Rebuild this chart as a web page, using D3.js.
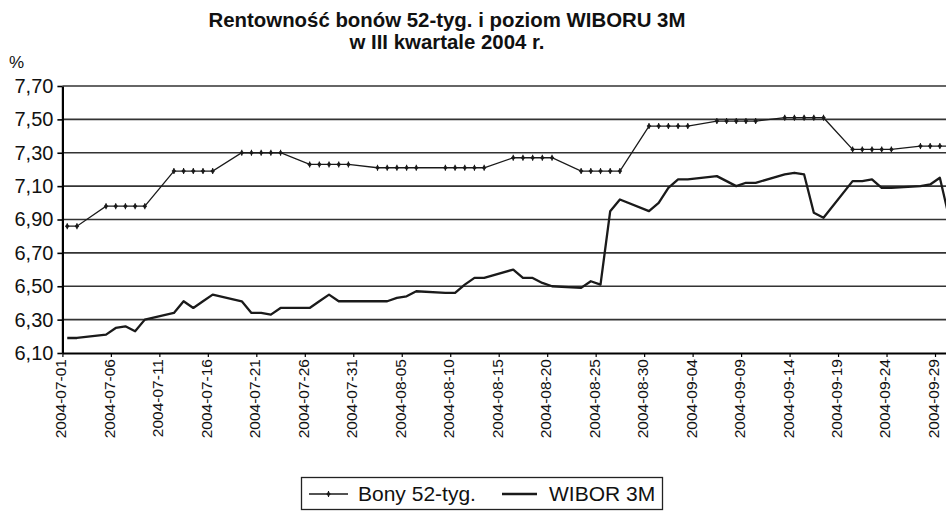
<!DOCTYPE html>
<html><head><meta charset="utf-8">
<script src="https://cdn.jsdelivr.net/npm/d3@7"></script>
<style>
html,body{margin:0;padding:0;background:#fff;}
svg{display:block;font-family:"Liberation Sans",Arial,sans-serif;}
</style></head>
<body>
<svg id="chart" width="946" height="511"></svg>
<script>
const titleLines = ["Rentowność bonów 52-tyg. i poziom WIBORU 3M", "w III kwartale 2004 r."];
const yUnit = "%";
const seriesNames = ["Bony 52-tyg.", "WIBOR 3M"];
const dates = [
 "2004-07-01","2004-07-02","2004-07-05","2004-07-06","2004-07-07","2004-07-08","2004-07-09",
 "2004-07-12","2004-07-13","2004-07-14","2004-07-15","2004-07-16","2004-07-19","2004-07-20",
 "2004-07-21","2004-07-22","2004-07-23","2004-07-26","2004-07-27","2004-07-28","2004-07-29","2004-07-30",
 "2004-08-02","2004-08-03","2004-08-04","2004-08-05","2004-08-06","2004-08-09","2004-08-10",
 "2004-08-11","2004-08-12","2004-08-13","2004-08-16","2004-08-17","2004-08-18","2004-08-19","2004-08-20",
 "2004-08-23","2004-08-24","2004-08-25","2004-08-26","2004-08-27","2004-08-30","2004-08-31",
 "2004-09-01","2004-09-02","2004-09-03","2004-09-06","2004-09-07","2004-09-08","2004-09-09","2004-09-10",
 "2004-09-13","2004-09-14","2004-09-15","2004-09-16","2004-09-17","2004-09-20","2004-09-21",
 "2004-09-22","2004-09-23","2004-09-24","2004-09-27","2004-09-28","2004-09-29","2004-09-30"
];
const bony = [
 6.86,6.86, 6.98,6.98,6.98,6.98,6.98,
 7.19,7.19,7.19,7.19,7.19, 7.30,7.30,
 7.30,7.30,7.30, 7.23,7.23,7.23,7.23,7.23,
 7.21,7.21,7.21,7.21,7.21, 7.21,7.21,
 7.21,7.21,7.21, 7.27,7.27,7.27,7.27,7.27,
 7.19,7.19,7.19,7.19,7.19, 7.46,7.46,
 7.46,7.46,7.46, 7.49,7.49,7.49,7.49,7.49,
 7.51,7.51,7.51,7.51,7.51, 7.32,7.32,
 7.32,7.32,7.32, 7.34,7.34,7.34,7.34
];
const wibor = [
 6.19,6.19, 6.21,6.25,6.26,6.23,6.30,
 6.34,6.41,6.37,6.41,6.45, 6.41,6.34,
 6.34,6.33,6.37, 6.37,6.41,6.45,6.41,6.41,
 6.41,6.41,6.43,6.44,6.47, 6.46,6.46,
 6.51,6.55,6.55, 6.60,6.55,6.55,6.52,6.50,
 6.49,6.53,6.51,6.95,7.02, 6.95,7.00,
 7.09,7.14,7.14, 7.16,7.13,7.10,7.12,7.12,
 7.17,7.18,7.17,6.94,6.91, 7.13,7.13,
 7.14,7.09,7.09, 7.10,7.11,7.15,6.90
];
const tickDates = ["2004-07-01","2004-07-06","2004-07-11","2004-07-16","2004-07-21","2004-07-26",
 "2004-07-31","2004-08-05","2004-08-10","2004-08-15","2004-08-20","2004-08-25","2004-08-30",
 "2004-09-04","2004-09-09","2004-09-14","2004-09-19","2004-09-24","2004-09-29"];
const yTicks = [6.10,6.30,6.50,6.70,6.90,7.10,7.30,7.50,7.70];

(function(){
const parse = d3.utcParse("%Y-%m-%d");
const svg = d3.select("#chart");
const pL = 62.4, pR = 954.4, pT = 86, pB = 353;

const x = d3.scaleUtc()
  .domain([parse("2004-07-01"), parse("2004-10-01")])
  .range([pL, pR]);
const y = d3.scaleLinear().domain([6.10, 7.70]).range([pB, pT]);
const mid = s => d3.utcHour.offset(parse(s), 12);

svg.append("g").selectAll("text").data(titleLines).join("text")
  .attr("x", 447).attr("y", (d,i) => 27 + i*22)
  .attr("text-anchor", "middle").attr("font-weight", "bold").attr("font-size", 20.4)
  .attr("fill", "#111").text(d => d);

svg.append("text").attr("x", 9).attr("y", 68).attr("font-size", 17).attr("fill", "#111").text(yUnit);

svg.append("g").selectAll("line").data(yTicks.slice(1)).join("line")
  .attr("x1", pL).attr("x2", 946).attr("y1", d => y(d)).attr("y2", d => y(d))
  .attr("stroke", "#333").attr("stroke-width", 1.6);

const yAxis = svg.append("g").attr("transform", `translate(${pL},0)`)
  .call(d3.axisLeft(y).tickValues(yTicks).tickFormat(d => d.toFixed(2).replace(".", ",")).tickSize(5).tickSizeOuter(0));
yAxis.select(".domain").attr("stroke", "#000").attr("stroke-width", 2.2);
yAxis.selectAll(".tick line").attr("stroke", "#000").attr("stroke-width", 1.6);
yAxis.selectAll(".tick text").attr("font-size", 20).attr("fill", "#111").attr("x", -9)
  .attr("font-family", "'Liberation Sans',Arial,sans-serif");

const xAxis = svg.append("g").attr("transform", `translate(0,${pB})`)
  .call(d3.axisBottom(x).tickValues(tickDates.map(parse)).tickFormat(d3.utcFormat("%Y-%m-%d")).tickSize(4).tickSizeOuter(0));
xAxis.select(".domain").attr("stroke", "#000").attr("stroke-width", 2.2);
xAxis.selectAll(".tick line").attr("stroke", "#000").attr("stroke-width", 1.2);
xAxis.selectAll(".tick text")
  .attr("font-size", 15.5).attr("fill", "#111")
  .attr("font-family", "'Liberation Sans',Arial,sans-serif")
  .attr("transform", "rotate(-90)").attr("text-anchor", "end")
  .attr("x", -6).attr("y", -2).attr("dy", "0.35em");

const lineGen = vals => d3.line().x((d,i) => x(mid(dates[i]))).y(d => y(d))(vals);
svg.append("path").attr("d", lineGen(wibor)).attr("fill", "none")
  .attr("stroke", "#1a1a1a").attr("stroke-width", 2.3).attr("stroke-linejoin", "round");
svg.append("path").attr("d", lineGen(bony)).attr("fill", "none")
  .attr("stroke", "#1a1a1a").attr("stroke-width", 1.3);

const marker = (g, cx, cy) => {
  g.append("line").attr("x1", cx).attr("x2", cx).attr("y1", cy - 3).attr("y2", cy + 3)
    .attr("stroke", "#1a1a1a").attr("stroke-width", 1.1);
  g.append("path").attr("d", `M${cx},${cy-2.6}L${cx+2.3},${cy}L${cx},${cy+2.6}L${cx-2.3},${cy}Z`).attr("fill", "#1a1a1a");
};
const mg = svg.append("g");
bony.forEach((v,i) => marker(mg, x(mid(dates[i])), y(v)));

const lg = svg.append("g");
lg.append("rect").attr("x", 301.5).attr("y", 477.5).attr("width", 361).attr("height", 32)
  .attr("fill", "#fff").attr("stroke", "#222").attr("stroke-width", 1.3);
const ly = 494;
lg.append("line").attr("x1", 309).attr("x2", 348).attr("y1", ly).attr("y2", ly).attr("stroke", "#1a1a1a").attr("stroke-width", 1.3);
marker(lg, 328.5, ly);
lg.append("text").attr("x", 358).attr("y", ly).attr("dy", "0.35em").attr("font-size", 21).attr("fill", "#111").text(seriesNames[0]);
lg.append("line").attr("x1", 502).attr("x2", 537).attr("y1", ly).attr("y2", ly).attr("stroke", "#1a1a1a").attr("stroke-width", 2.3);
lg.append("text").attr("x", 549).attr("y", ly).attr("dy", "0.35em").attr("font-size", 21).attr("fill", "#111").text(seriesNames[1]);
})();
</script>
</body></html>
